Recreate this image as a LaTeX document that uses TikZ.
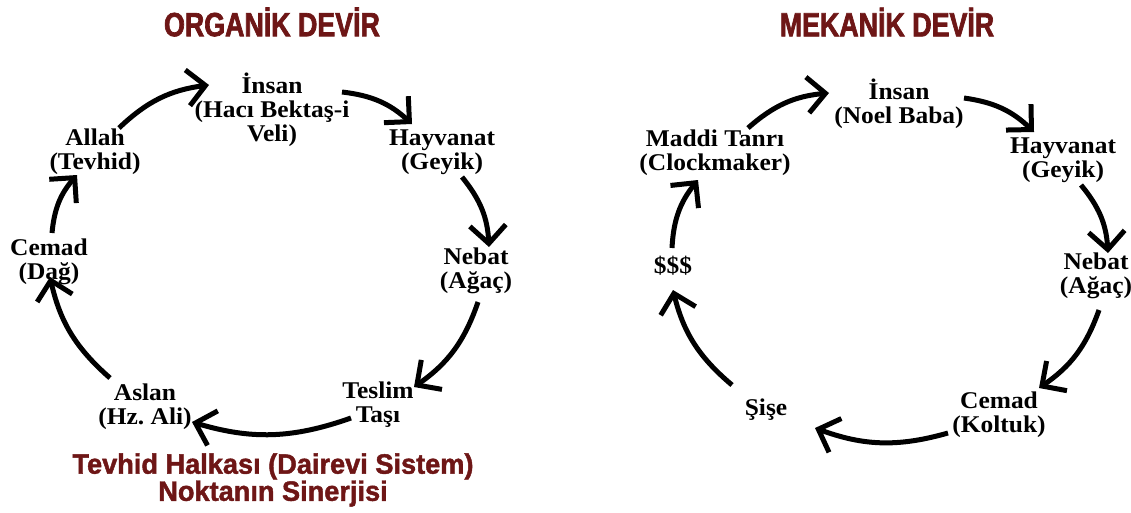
\documentclass[tikz,border=0pt]{standalone}
\usepackage{fontspec}
\usetikzlibrary{arrows.meta}
\newfontfamily\lblfont[FakeStretch=1.06]{Liberation Serif}
\newfontfamily\ttlfont[FakeStretch=0.80,FakeBold=2]{Liberation Sans}
\newfontfamily\subfont[FakeStretch=0.97,FakeBold=1.5]{Liberation Sans}
\definecolor{titlered}{RGB}{110,22,22}
\frenchspacing
\begin{document}
\begin{tikzpicture}[x=1pt,y=-1pt,
  lbl/.style={font=\lblfont\bfseries\fontsize{24}{24}\selectfont, align=center, inner sep=0pt},
  ttl/.style={font=\ttlfont\bfseries\fontsize{33.5}{36}\selectfont, text=titlered, inner sep=0pt},
  subttl/.style={font=\subfont\bfseries\fontsize{28}{24}\selectfont, text=titlered, align=center, inner sep=0pt},
  arr/.style={line width=5pt, -{Straight Barb[length=18pt,width=36pt]}, bend left=18}]
\fill[white] (0,0) rectangle (1131,512);
\useasboundingbox (0,0) rectangle (1131,512);

% ---------- left: Organik Devir ----------
\node[ttl] (t1) at (272,22) {ORGANİK DEVİR};
\node[lbl] (insan) at (272,110) {İnsan\\(Hacı Bektaş-i\\Veli)};
\node[lbl] (hayv) at (442,152) {Hayvanat\\(Geyik)};
\node[lbl] (nebat) at (476,271) {Nebat\\(Ağaç)};
\node[lbl] (teslim) at (378,405) {Teslim\\Taşı};
\node[lbl] (aslan) at (145,407) {Aslan\\(Hz. Ali)};
\node[lbl] (cemad) at (49,262) {Cemad\\(Dağ)};
\node[lbl] (allah) at (95,152) {Allah\\(Tevhid)};
\node[subttl] (s1) at (273,480) {Tevhid Halkası (Dairevi Sistem)\\Noktanın Sinerjisi};

\draw[arr] ([shift={(24,-24)}]allah.center) to ([shift={(-63,-25)}]insan.center);
\draw[arr] ([shift={(70,-18)}]insan.center) to ([shift={(-30,-28)}]hayv.center);
\draw[arr] ([shift={(20,25)}]hayv.center) to ([shift={(13,-24)}]nebat.center);
\draw[arr] ([shift={(2,31)}]nebat.center) to ([shift={(36,-18)}]teslim.center);
\draw[arr] ([shift={(-27,13)}]teslim.center) to ([shift={(47,15)}]aslan.center);
\draw[arr] ([shift={(-35,-29)}]aslan.center) to ([shift={(1,15)}]cemad.center);
\draw[arr] ([shift={(3,-29)}]cemad.center) to ([shift={(-18,23)}]allah.center);

% ---------- right: Mekanik Devir ----------
\node[ttl] (t2) at (887,22) {MEKANİK DEVİR};
\node[lbl] (insanb) at (899,104) {İnsan\\(Noel Baba)};
\node[lbl] (hayvb) at (1063,160) {Hayvanat\\(Geyik)};
\node[lbl] (nebatb) at (1096,276) {Nebat\\(Ağaç)};
\node[lbl] (cemadb) at (999,415) {Cemad\\(Koltuk)};
\node[lbl] (sise) at (766,410) {Şişe};
\node[lbl] (dollar) at (673,266) {\$\$\$};
\node[lbl] (maddi) at (715,153) {Maddi Tanrı\\(Clockmaker)};

\draw[arr] ([shift={(33,-25)}]maddi.center) to ([shift={(-70,-11)}]insanb.center);
\draw[arr] ([shift={(65,-6)}]insanb.center) to ([shift={(-29,-28)}]hayvb.center);
\draw[arr] ([shift={(18,25)}]hayvb.center) to ([shift={(12,-23)}]nebatb.center);
\draw[arr] ([shift={(3,34)}]nebatb.center) to ([shift={(40,-27)}]cemadb.center);
\draw[arr] ([shift={(-51,18)}]cemadb.center) to ([shift={(49,18)}]sise.center);
\draw[arr] ([shift={(-34,-25)}]sise.center) to ([shift={(0,24)}]dollar.center);
\draw[arr] ([shift={(-1,-18)}]dollar.center) to ([shift={(-17,27)}]maddi.center);
\end{tikzpicture}
\end{document}
